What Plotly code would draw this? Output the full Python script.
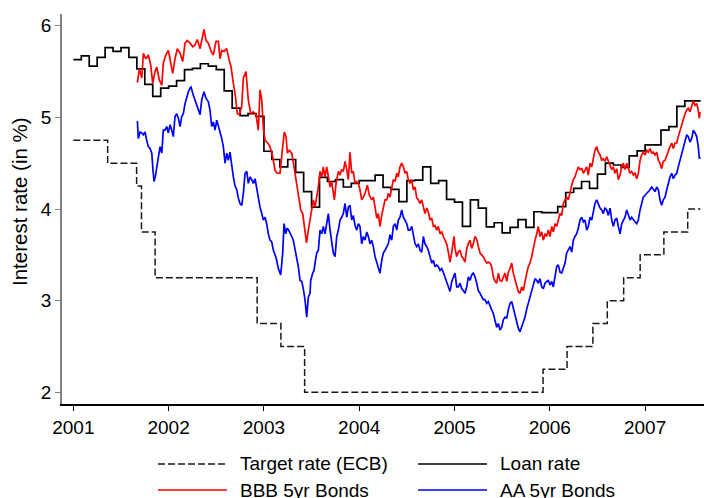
import plotly.graph_objects as go
import numpy as np

# --- ECB target rate (step changes, decimal years) ---
target_year = [2001.0, 2001.36, 2001.664, 2001.715, 2001.858, 2002.929, 2003.178,
               2003.427, 2005.929, 2006.181, 2006.452, 2006.603, 2006.775,
               2006.948, 2007.197, 2007.447, 2007.58]
target_rate = [4.75, 4.50, 4.25, 3.75, 3.25, 2.75, 2.50, 2.00, 2.25, 2.50, 2.75,
               3.00, 3.25, 3.50, 3.75, 4.00, 4.00]

# --- loan rate, monthly from Jan 2001 ---
loan_rate = [5.63, 5.67, 5.56, 5.655, 5.76, 5.72, 5.76, 5.655, 5.53, 5.36,
             5.23, 5.32, 5.34, 5.40, 5.52, 5.535, 5.585, 5.56, 5.52, 5.29,
             5.10, 5.02, 5.04, 5.01, 4.63, 4.54, 4.46, 4.54, 4.40, 4.19,
             4.02, 4.345, 4.30, 4.32, 4.24, 4.28, 4.31, 4.31, 4.37, 4.235,
             4.215, 4.08, 4.31, 4.315, 4.46, 4.28, 4.31, 4.105, 4.075, 3.81,
             4.10, 4.01, 3.805, 3.85, 3.74, 3.80, 3.885, 3.80, 3.97, 3.96,
             3.96, 4.025, 4.18, 4.225, 4.30, 4.225, 4.38, 4.50, 4.48, 4.455,
             4.58, 4.635, 4.70, 4.70, 4.86, 4.90, 5.12, 5.18, 5.18]

# --- BBB 5yr bonds ---
bbb_year = [2001.672, 2001.693, 2001.718, 2001.735, 2001.760, 2001.787, 2001.812, 2001.833, 2001.857, 2001.875,
            2001.902, 2001.928, 2001.944, 2001.970, 2001.997, 2002.022, 2002.043, 2002.067, 2002.091, 2002.120,
            2002.148, 2002.172, 2002.196, 2002.225, 2002.253, 2002.277, 2002.301, 2002.330, 2002.347, 2002.371,
            2002.392, 2002.417, 2002.442, 2002.469, 2002.497, 2002.522, 2002.539, 2002.557, 2002.581, 2002.610,
            2002.634, 2002.655, 2002.679, 2002.697, 2002.721, 2002.742, 2002.767, 2002.784, 2002.812, 2002.836,
            2002.862, 2002.889, 2002.917, 2002.941, 2002.959, 2002.977, 2002.994, 2003.012, 2003.040, 2003.064,
            2003.092, 2003.117, 2003.141, 2003.169, 2003.197, 2003.214, 2003.232, 2003.246, 2003.267, 2003.292,
            2003.316, 2003.337, 2003.361, 2003.386, 2003.407, 2003.431, 2003.447, 2003.466, 2003.484, 2003.502,
            2003.518, 2003.536, 2003.554, 2003.571, 2003.589, 2003.607, 2003.623, 2003.641, 2003.659, 2003.676,
            2003.694, 2003.711, 2003.739, 2003.757, 2003.781, 2003.799, 2003.816, 2003.833, 2003.851, 2003.869,
            2003.886, 2003.903, 2003.921, 2003.938, 2003.956, 2003.974, 2003.991, 2004.008, 2004.026, 2004.043,
            2004.061, 2004.085, 2004.106, 2004.131, 2004.148, 2004.166, 2004.184, 2004.200, 2004.218, 2004.236,
            2004.253, 2004.271, 2004.289, 2004.305, 2004.323, 2004.341, 2004.358, 2004.376, 2004.394, 2004.410,
            2004.428, 2004.446, 2004.463, 2004.481, 2004.498, 2004.515, 2004.533, 2004.551, 2004.568, 2004.586,
            2004.603, 2004.620, 2004.638, 2004.656, 2004.673, 2004.690, 2004.708, 2004.725, 2004.743, 2004.761,
            2004.778, 2004.795, 2004.813, 2004.830, 2004.848, 2004.866, 2004.882, 2004.900, 2004.918, 2004.935,
            2004.953, 2004.971, 2004.995, 2005.005, 2005.023, 2005.040, 2005.058, 2005.076, 2005.092, 2005.110,
            2005.128, 2005.145, 2005.163, 2005.180, 2005.197, 2005.215, 2005.233, 2005.250, 2005.268, 2005.285,
            2005.302, 2005.320, 2005.338, 2005.355, 2005.373, 2005.390, 2005.407, 2005.425, 2005.443, 2005.460,
            2005.477, 2005.495, 2005.512, 2005.530, 2005.548, 2005.565, 2005.582, 2005.600, 2005.617, 2005.635,
            2005.653, 2005.669, 2005.687, 2005.705, 2005.722, 2005.740, 2005.758, 2005.774, 2005.792, 2005.810,
            2005.827, 2005.845, 2005.863, 2005.879, 2005.897, 2005.915, 2005.932, 2005.950, 2005.967, 2005.984,
            2006.002, 2006.020, 2006.037, 2006.055, 2006.072, 2006.089, 2006.107, 2006.125, 2006.142, 2006.160,
            2006.177, 2006.194, 2006.212, 2006.230, 2006.247, 2006.264, 2006.282, 2006.299, 2006.317, 2006.335,
            2006.352, 2006.369, 2006.387, 2006.404, 2006.422, 2006.440, 2006.456, 2006.474, 2006.492, 2006.509,
            2006.527, 2006.545, 2006.561, 2006.579, 2006.597, 2006.614, 2006.632, 2006.650, 2006.666, 2006.684,
            2006.702, 2006.719, 2006.737, 2006.755, 2006.771, 2006.789, 2006.807, 2006.824, 2006.842, 2006.859,
            2006.876, 2006.894, 2006.912, 2006.929, 2006.947, 2006.964, 2006.981, 2006.999, 2007.017, 2007.034,
            2007.051, 2007.069, 2007.086, 2007.104, 2007.122, 2007.139, 2007.156, 2007.174, 2007.191, 2007.209,
            2007.227, 2007.243, 2007.261, 2007.279, 2007.296, 2007.314, 2007.332, 2007.348, 2007.366, 2007.384,
            2007.401, 2007.419, 2007.437, 2007.453, 2007.471, 2007.489, 2007.506, 2007.524, 2007.541, 2007.558,
            2007.569, 2007.576]
bbb_rate = [5.38, 5.53, 5.43, 5.70, 5.64, 5.68, 5.57, 5.37, 5.50, 5.55,
            5.41, 5.35, 5.59, 5.68, 5.73, 5.59, 5.48, 5.64, 5.75, 5.70,
            5.61, 5.81, 5.84, 5.81, 5.77, 5.79, 5.85, 5.75, 5.83, 5.96,
            5.84, 5.81, 5.73, 5.68, 5.83, 5.83, 5.64, 5.73, 5.72, 5.75,
            5.63, 5.55, 5.37, 5.26, 5.04, 5.03, 5.12, 5.43, 5.50, 5.19,
            5.04, 5.06, 5.03, 4.86, 5.30, 5.19, 4.88, 4.75, 4.72, 4.68,
            4.57, 4.42, 4.39, 4.39, 4.68, 4.84, 4.79, 4.61, 4.64, 4.61,
            4.46, 4.32, 4.13, 3.99, 3.95, 3.77, 3.63, 3.77, 3.88, 3.99,
            4.10, 4.02, 4.13, 4.24, 4.41, 4.35, 4.46, 4.35, 4.46, 4.37,
            4.24, 4.30, 4.10, 4.28, 4.41, 4.37, 4.43, 4.41, 4.52, 4.43,
            4.32, 4.62, 4.39, 4.41, 4.28, 4.30, 4.28, 4.21, 4.10, 4.13,
            4.17, 4.26, 4.15, 4.10, 4.13, 4.02, 3.90, 3.95, 3.81, 3.93,
            4.02, 4.10, 4.10, 4.17, 4.13, 4.24, 4.32, 4.30, 4.39, 4.35,
            4.46, 4.50, 4.46, 4.39, 4.41, 4.32, 4.28, 4.32, 4.21, 4.24,
            4.12, 4.10, 4.06, 4.10, 4.02, 3.95, 4.01, 3.97, 3.88, 3.90,
            3.81, 3.82, 3.77, 3.81, 3.73, 3.75, 3.70, 3.66, 3.62, 3.53,
            3.42, 3.53, 3.70, 3.57, 3.48, 3.53, 3.55, 3.48, 3.46, 3.42,
            3.57, 3.62, 3.66, 3.57, 3.62, 3.70, 3.67, 3.59, 3.52, 3.50,
            3.48, 3.44, 3.41, 3.42, 3.41, 3.37, 3.26, 3.21, 3.19, 3.30,
            3.22, 3.21, 3.26, 3.30, 3.21, 3.31, 3.35, 3.41, 3.30, 3.22,
            3.15, 3.10, 3.08, 3.15, 3.11, 3.22, 3.30, 3.37, 3.41, 3.48,
            3.59, 3.66, 3.73, 3.81, 3.70, 3.75, 3.66, 3.73, 3.70, 3.77,
            3.70, 3.81, 3.75, 3.84, 3.81, 3.88, 3.95, 3.93, 4.06, 4.10,
            4.13, 4.10, 4.19, 4.26, 4.32, 4.35, 4.41, 4.46, 4.43, 4.44,
            4.39, 4.43, 4.46, 4.37, 4.50, 4.46, 4.57, 4.64, 4.68, 4.62,
            4.59, 4.53, 4.55, 4.52, 4.57, 4.52, 4.48, 4.43, 4.46, 4.39,
            4.44, 4.32, 4.37, 4.46, 4.50, 4.43, 4.50, 4.44, 4.39, 4.41,
            4.37, 4.39, 4.33, 4.39, 4.53, 4.59, 4.62, 4.59, 4.64, 4.62,
            4.66, 4.61, 4.62, 4.59, 4.62, 4.53, 4.50, 4.44, 4.52, 4.53,
            4.59, 4.62, 4.68, 4.72, 4.66, 4.72, 4.72, 4.79, 4.86, 4.93,
            4.97, 5.04, 5.08, 5.10, 5.06, 5.13, 5.18, 5.13, 5.15, 5.08,
            4.99, 5.06]

# --- AA 5yr bonds ---
aa_year = [2001.672, 2001.682, 2001.700, 2001.718, 2001.735, 2001.752, 2001.770, 2001.787, 2001.805, 2001.823,
           2001.836, 2001.847, 2001.860, 2001.875, 2001.892, 2001.910, 2001.928, 2001.944, 2001.962, 2001.980,
           2001.997, 2002.015, 2002.033, 2002.049, 2002.067, 2002.085, 2002.102, 2002.120, 2002.137, 2002.154,
           2002.172, 2002.190, 2002.207, 2002.225, 2002.235, 2002.259, 2002.277, 2002.295, 2002.312, 2002.330,
           2002.347, 2002.371, 2002.392, 2002.417, 2002.434, 2002.452, 2002.469, 2002.487, 2002.505, 2002.522,
           2002.539, 2002.557, 2002.574, 2002.592, 2002.610, 2002.626, 2002.644, 2002.662, 2002.679, 2002.697,
           2002.715, 2002.731, 2002.749, 2002.767, 2002.784, 2002.802, 2002.820, 2002.836, 2002.854, 2002.872,
           2002.889, 2002.907, 2002.924, 2002.941, 2002.959, 2002.977, 2002.994, 2003.012, 2003.029, 2003.046,
           2003.064, 2003.082, 2003.099, 2003.117, 2003.134, 2003.151, 2003.176, 2003.197, 2003.211, 2003.229,
           2003.242, 2003.259, 2003.277, 2003.292, 2003.308, 2003.326, 2003.344, 2003.361, 2003.379, 2003.397,
           2003.413, 2003.431, 2003.449, 2003.466, 2003.484, 2003.491, 2003.512, 2003.526, 2003.536, 2003.554,
           2003.571, 2003.589, 2003.607, 2003.623, 2003.641, 2003.659, 2003.676, 2003.694, 2003.711, 2003.728,
           2003.746, 2003.764, 2003.781, 2003.799, 2003.816, 2003.833, 2003.851, 2003.869, 2003.886, 2003.903,
           2003.921, 2003.938, 2003.956, 2003.974, 2003.991, 2004.008, 2004.026, 2004.043, 2004.061, 2004.079,
           2004.096, 2004.113, 2004.131, 2004.148, 2004.166, 2004.184, 2004.200, 2004.218, 2004.236, 2004.253,
           2004.271, 2004.289, 2004.305, 2004.323, 2004.341, 2004.358, 2004.376, 2004.394, 2004.410, 2004.428,
           2004.446, 2004.463, 2004.481, 2004.498, 2004.515, 2004.533, 2004.551, 2004.568, 2004.586, 2004.603,
           2004.620, 2004.638, 2004.656, 2004.673, 2004.690, 2004.708, 2004.725, 2004.743, 2004.761, 2004.778,
           2004.795, 2004.813, 2004.830, 2004.848, 2004.866, 2004.882, 2004.900, 2004.918, 2004.935, 2004.953,
           2004.971, 2004.987, 2005.005, 2005.023, 2005.040, 2005.058, 2005.076, 2005.092, 2005.110, 2005.128,
           2005.145, 2005.163, 2005.180, 2005.197, 2005.215, 2005.233, 2005.250, 2005.268, 2005.285, 2005.302,
           2005.320, 2005.338, 2005.355, 2005.373, 2005.390, 2005.407, 2005.425, 2005.443, 2005.460, 2005.477,
           2005.495, 2005.512, 2005.530, 2005.548, 2005.565, 2005.582, 2005.600, 2005.617, 2005.635, 2005.653,
           2005.669, 2005.687, 2005.705, 2005.722, 2005.740, 2005.758, 2005.774, 2005.792, 2005.810, 2005.827,
           2005.845, 2005.863, 2005.879, 2005.897, 2005.915, 2005.932, 2005.950, 2005.967, 2005.984, 2006.002,
           2006.020, 2006.037, 2006.055, 2006.072, 2006.089, 2006.107, 2006.125, 2006.142, 2006.160, 2006.177,
           2006.194, 2006.212, 2006.230, 2006.247, 2006.264, 2006.282, 2006.299, 2006.317, 2006.335, 2006.352,
           2006.369, 2006.387, 2006.404, 2006.422, 2006.440, 2006.456, 2006.474, 2006.492, 2006.509, 2006.527,
           2006.545, 2006.561, 2006.579, 2006.597, 2006.614, 2006.632, 2006.650, 2006.666, 2006.684, 2006.702,
           2006.719, 2006.737, 2006.755, 2006.771, 2006.789, 2006.807, 2006.824, 2006.842, 2006.859, 2006.876,
           2006.894, 2006.912, 2006.929, 2006.947, 2006.964, 2006.981, 2006.999, 2007.017, 2007.034, 2007.051,
           2007.069, 2007.086, 2007.104, 2007.122, 2007.139, 2007.156, 2007.174, 2007.191, 2007.209, 2007.227,
           2007.243, 2007.261, 2007.279, 2007.296, 2007.314, 2007.332, 2007.348, 2007.366, 2007.384, 2007.401,
           2007.419, 2007.437, 2007.453, 2007.471, 2007.489, 2007.506, 2007.524, 2007.541, 2007.558, 2007.569,
           2007.576]
aa_rate = [4.96, 4.77, 4.84, 4.83, 4.81, 4.84, 4.75, 4.68, 4.66, 4.61,
           4.42, 4.30, 4.35, 4.46, 4.57, 4.68, 4.61, 4.86, 4.86, 4.90,
           4.83, 4.92, 4.86, 4.79, 5.01, 5.04, 4.99, 4.90, 5.01, 5.04,
           5.15, 5.22, 5.28, 5.32, 5.33, 5.24, 5.19, 5.15, 5.10, 5.03,
           5.19, 5.28, 5.21, 5.17, 5.08, 4.90, 4.95, 4.86, 4.97, 4.90,
           4.86, 4.77, 4.68, 4.50, 4.61, 4.53, 4.62, 4.46, 4.35, 4.25,
           4.21, 4.12, 4.06, 4.04, 4.17, 4.39, 4.41, 4.28, 4.35, 4.32,
           4.28, 4.33, 4.22, 4.10, 4.02, 3.95, 3.88, 3.91, 3.84, 3.73,
           3.66, 3.64, 3.55, 3.50, 3.44, 3.35, 3.28, 3.52, 3.84, 3.73,
           3.79, 3.77, 3.74, 3.70, 3.66, 3.57, 3.48, 3.37, 3.22, 3.21,
           3.13, 3.01, 2.82, 3.04, 3.08, 3.22, 3.30, 3.33, 3.41, 3.52,
           3.55, 3.77, 3.73, 3.81, 3.73, 3.84, 3.95, 3.77, 3.66, 3.52,
           3.48, 3.70, 3.77, 3.88, 3.91, 3.95, 4.06, 3.91, 4.02, 4.04,
           3.88, 3.93, 3.82, 3.77, 3.84, 3.81, 3.62, 3.70, 3.66, 3.75,
           3.70, 3.62, 3.66, 3.59, 3.48, 3.41, 3.35, 3.30, 3.44, 3.52,
           3.55, 3.59, 3.62, 3.72, 3.66, 3.81, 3.84, 3.77, 3.88, 3.91,
           3.99, 3.91, 3.88, 3.84, 3.77, 3.77, 3.81, 3.70, 3.62, 3.59,
           3.62, 3.55, 3.53, 3.70, 3.62, 3.59, 3.55, 3.48, 3.41, 3.44,
           3.37, 3.39, 3.37, 3.33, 3.35, 3.31, 3.26, 3.19, 3.15, 3.10,
           3.21, 3.26, 3.30, 3.15, 3.15, 3.19, 3.13, 3.11, 3.08, 3.15,
           3.26, 3.22, 3.28, 3.30, 3.26, 3.19, 3.11, 3.08, 3.04, 3.01,
           3.01, 2.97, 2.99, 2.93, 2.90, 2.86, 2.79, 2.71, 2.75, 2.68,
           2.71, 2.79, 2.82, 2.81, 2.90, 2.97, 2.99, 2.91, 2.86, 2.77,
           2.70, 2.66, 2.71, 2.77, 2.82, 2.91, 2.97, 3.04, 3.11, 3.17,
           3.24, 3.22, 3.19, 3.24, 3.15, 3.13, 3.19, 3.21, 3.22, 3.17,
           3.21, 3.15, 3.26, 3.37, 3.39, 3.31, 3.30, 3.35, 3.41, 3.52,
           3.55, 3.59, 3.53, 3.66, 3.70, 3.73, 3.79, 3.88, 3.91, 3.86,
           3.88, 3.77, 3.81, 3.91, 3.88, 3.99, 4.06, 4.10, 4.06, 4.01,
           3.99, 3.95, 4.01, 3.99, 3.93, 4.01, 3.88, 3.81, 3.88, 3.90,
           3.81, 3.73, 3.84, 3.88, 3.91, 3.99, 3.93, 3.88, 3.91, 3.88,
           3.86, 3.84, 3.88, 3.99, 4.06, 4.13, 4.15, 4.17, 4.19, 4.21,
           4.24, 4.22, 4.19, 4.24, 4.21, 4.10, 4.04, 4.10, 4.13, 4.21,
           4.28, 4.35, 4.39, 4.33, 4.37, 4.39, 4.46, 4.53, 4.61, 4.68,
           4.75, 4.81, 4.79, 4.73, 4.77, 4.86, 4.83, 4.79, 4.68, 4.55,
           4.57]

year_ticks = [2001, 2002, 2003, 2004, 2005, 2006, 2007]
rate_ticks = [2, 3, 4, 5, 6]

FONT = "Liberation Sans, Arial, Helvetica, sans-serif"

# monthly steps for the loan rate, closed at the end of the last month
loan_year = list(2001 + np.arange(len(loan_rate) + 1) / 12)
loan_vals = loan_rate + [loan_rate[-1]]

fig = go.Figure()

fig.add_trace(go.Scatter(x=target_year, y=target_rate, mode="lines", name="Target rate (ECB)",
                         line=dict(color="#1a1a1a", width=1.5, dash="7px,3px", shape="hv")))
fig.add_trace(go.Scatter(x=loan_year, y=loan_vals, mode="lines", name="Loan rate",
                         line=dict(color="black", width=1.7, shape="hv")))
fig.add_trace(go.Scatter(x=bbb_year, y=bbb_rate, mode="lines", name="BBB 5yr Bonds",
                         line=dict(color="#ff0000", width=1.7)))
fig.add_trace(go.Scatter(x=aa_year, y=aa_rate, mode="lines", name="AA 5yr Bonds",
                         line=dict(color="#0000ff", width=1.7)))

# plot box in window pixels: left 62, right 704, top 14, bottom 404
L, R, T, B = 62, 704, 14, 404
def px(x): return (x - L) / (R - L)
def py(y): return (B - y) / (B - T)

# hand-made legend below the plot (long line samples like the original)
legend_items = [
    ("Target rate (ECB)", "#1a1a1a", "7px,3px", 158, 464),
    ("Loan rate", "black", "solid", 418, 464),
    ("BBB 5yr Bonds", "#ff0000", "solid", 158, 490),
    ("AA 5yr Bonds", "#0000ff", "solid", 418, 490),
]
shapes, annos = [], []
for label, col, dash, x0, yy in legend_items:
    shapes.append(dict(type="line", xref="paper", yref="paper",
                       x0=px(x0), x1=px(x0 + 69), y0=py(yy), y1=py(yy),
                       line=dict(color=col, width=1.7, dash=dash)))
    annos.append(dict(text=label, xref="paper", yref="paper", x=px(x0 + 80), y=py(yy),
                      xanchor="left", yanchor="middle", showarrow=False,
                      font=dict(size=19, color="black", family=FONT)))

annos.append(dict(text="Interest rate (in %)", xref="paper", yref="paper",
                  x=px(20), y=py(202), textangle=-90, xanchor="center", yanchor="middle",
                  showarrow=False, font=dict(size=20.5, color="black", family=FONT)))

fig.update_layout(
    width=704, height=498,
    margin=dict(l=L, r=0, t=T, b=498 - B),
    paper_bgcolor="white", plot_bgcolor="white",
    font=dict(family=FONT, color="black"),
    showlegend=False,
    shapes=shapes, annotations=annos,
    xaxis=dict(range=[2000.881, 2007.618], tickvals=year_ticks,
               ticks="outside", ticklen=5, tickwidth=1.3, tickcolor="black",
               showline=True, linecolor="black", linewidth=1.5,
               showgrid=False, zeroline=False, tickfont=dict(size=19)),
    yaxis=dict(range=[1.872, 6.128], tickvals=rate_ticks,
               ticks="outside", ticklen=5, tickwidth=1.3, tickcolor="#808080",
               showline=True, linecolor="#808080", linewidth=1.5,
               showgrid=False, zeroline=False, tickfont=dict(size=19)),
)

# drop the default page margin so the 704x498 figure fills the window exactly
fig.write_html("out.html", config={"displayModeBar": False},
               post_script="document.body.style.margin='0';document.body.style.overflow='hidden';")
